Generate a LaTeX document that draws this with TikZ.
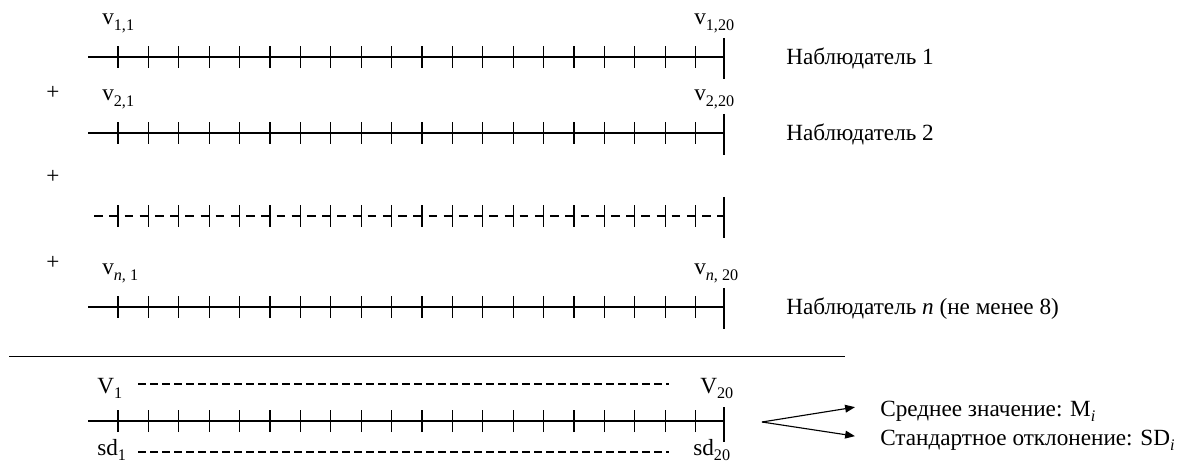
\documentclass[tikz,border=0pt]{standalone}
\usepackage{fontspec}
\setmainfont{Liberation Serif}
\usetikzlibrary{arrows.meta,positioning}
\newcommand{\valsub}[1]{\raisebox{-4pt}{\fontsize{11.5}{13}\selectfont #1}}

\begin{document}
\begin{tikzpicture}[
  every node/.style={font=\fontsize{16.5}{19}\selectfont,inner sep=0pt},
  axis/.style={line width=0.8pt},
  lbl/.style={anchor=base west},
  dashrow/.style={line width=0.8pt,dash pattern=on 0.1875cm off 0.1125cm},
  arr/.style={-{Triangle[length=7pt,width=5.5pt]},line width=0.8pt},
]
  \useasboundingbox (0,0) rectangle (29.625,11.575);

  % Observer scales
  \foreach \y in {10.15,8.25,3.9,1.05} {
    \draw[axis] (2.2,\y) -- (18.1,\y);
    \foreach \k in {0,...,19}
      \draw[axis] (2.95+0.76*\k,\y-0.275) -- (2.95+0.76*\k,\y+0.275);
  }
  \draw[axis,dash pattern=on 0.2175cm off 0.1625cm] (2.3525,6.175) -- (18.1,6.175);
  \foreach \k in {0,...,19}
    \draw[axis] (2.95+0.76*\k,5.9) -- (2.95+0.76*\k,6.45);

  % End marks
  \foreach \y in {10.15,8.25,6.175,3.9}
    \draw[axis] (18.1,\y+0.475) -- (18.1,\y-0.55);
  \draw[axis] (18.1,1.4) -- (18.1,0.525);

  % Value labels
  \node[lbl] (v11) at (2.55,10.95) {v\valsub{1,1}};
  \node[lbl] (v120) at (17.35,10.95) {v\valsub{1,20}};
  \node[lbl] (v21) at (2.55,9.05) {v\valsub{2,1}};
  \node[lbl] (v220) at (17.35,9.05) {v\valsub{2,20}};
  \node[lbl] (vn1) at (2.55,4.7) {v\valsub{\textit{n}, 1}};
  \node[lbl] (vn20) at (17.35,4.7) {v\valsub{\textit{n}, 20}};

  % Plus signs
  \node (plus1) at (1.325,9.25) {+};
  \node (plus2) at (1.325,7.15) {+};
  \node (plus3) at (1.325,5.0) {+};

  % Observers
  \node[lbl] (obs1) at (19.65,9.95) {Наблюдатель 1};
  \node[lbl] (obs2) at (19.65,8.05) {Наблюдатель 2};
  \node[lbl] (obsn) at (19.65,3.7) {Наблюдатель \textit{n} (не менее 8)};

  % Sum line
  \draw[axis] (0.225,2.6625) -- (21.125,2.6625);

  % Mean and deviation
  \node[lbl] (V1) at (2.425,1.75) {V\valsub{1}};
  \node[lbl] (V20) at (17.5,1.75) {V\valsub{20}};
  \node[lbl] (sd1) at (2.425,0.2) {sd\valsub{1}};
  \node[lbl] (sd20) at (17.325,0.2) {sd\valsub{20}};
  \draw[dashrow] (3.45,1.975) -- (16.725,1.975);
  \draw[dashrow] (3.45,0.275) -- (16.725,0.275);

  \coordinate (split) at (19.05,1.025);
  \node[lbl] (mean) at (22,1.175) {Среднее значение: M\valsub{\textit{i}}};
  \node[lbl] (sdev) at (22,0.45) {Стандартное отклонение: SD\valsub{\textit{i}}};
  \draw[arr] (split) -- ([xshift=-0.625cm,yshift=0.1cm]mean.west);
  \draw[arr] (split) -- ([xshift=-0.625cm,yshift=0.1cm]sdev.west);
\end{tikzpicture}
\end{document}
